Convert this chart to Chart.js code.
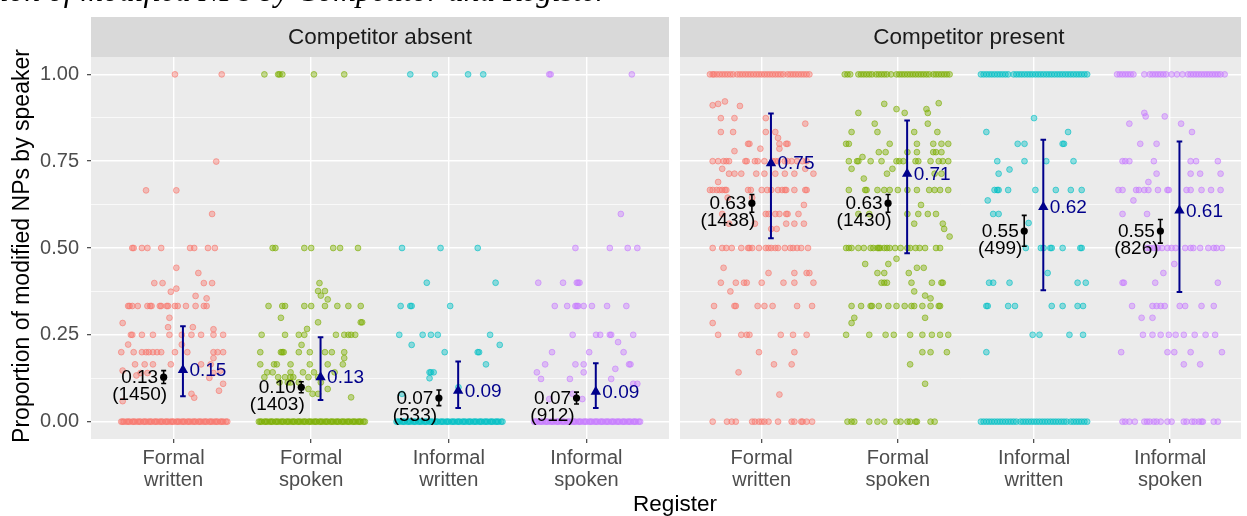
<!DOCTYPE html>
<html><head><meta charset="utf-8">
<script src="https://cdn.jsdelivr.net/npm/chart.js@4.4.0/dist/chart.umd.min.js"></script>
<style>
html,body{margin:0;padding:0;background:#fff;}
#wrap{position:relative;width:1247px;height:516px;overflow:hidden;}
canvas{position:absolute;left:0;top:0;}
</style></head><body>
<div id="wrap"><canvas id="c1" width="1247" height="516"></canvas><canvas id="c2" width="1247" height="516"></canvas></div>
<script>
// ---------- DATA ----------
const categories = [['Formal','written'],['Formal','spoken'],['Informal','written'],['Informal','spoken']];
const facetNames = ['Competitor absent','Competitor present'];
const yTickValues = [0,0.125,0.25,0.375,0.5,0.625,0.75,0.875,1];
const yTickLabels = ['0.00','','0.25','','0.50','','0.75','','1.00'];
const xTitle = 'Register';
const yTitle = 'Proportion of modified NPs by speaker';
const topTitle = 'Proportion of modified NPs by Competitor and Register';

// observed means (black) with intervals and speaker counts
const absentMean   = [0.128, 0.099, 0.068, 0.068];
const absentMeanLo = [0.110, 0.083, 0.046, 0.051];
const absentMeanHi = [0.147, 0.115, 0.091, 0.085];
const absentMeanLabel = ['0.13','0.10','0.07','0.07'];
const absentN = [1450, 1403, 533, 912];
const presentMean   = [0.629, 0.629, 0.549, 0.549];
const presentMeanLo = [0.603, 0.603, 0.505, 0.514];
const presentMeanHi = [0.654, 0.654, 0.594, 0.582];
const presentMeanLabel = ['0.63','0.63','0.55','0.55'];
const presentN = [1438, 1430, 499, 826];

// model estimates (blue triangles) with intervals
const absentModel   = [0.149, 0.128, 0.089, 0.086];
const absentModelLo = [0.073, 0.062, 0.039, 0.039];
const absentModelHi = [0.275, 0.243, 0.173, 0.168];
const absentModelLabel = ['0.15','0.13','0.09','0.09'];
const presentModel   = [0.744, 0.714, 0.618, 0.608];
const presentModelLo = [0.528, 0.485, 0.378, 0.373];
const presentModelHi = [0.887, 0.867, 0.812, 0.807];
const presentModelLabel = ['0.75','0.71','0.62','0.61'];

// per-speaker proportions: rows of [value, [horizontal jitter offsets]]
const zeroBandAbsent = [-0.38,-0.36,-0.34,-0.32,-0.30,-0.28,-0.26,-0.24,-0.22,-0.20,-0.18,-0.16,-0.14,-0.12,-0.10,-0.08,-0.06,-0.04,-0.02,0,0.02,0.04,0.06,0.08,0.10,0.12,0.14,0.16,0.18,0.20,0.22,0.24,0.26,0.28,0.30,0.32,0.34,0.36,0.38,
  -0.37,-0.33,-0.29,-0.25,-0.21,-0.17,-0.13,-0.09,-0.05,-0.01,0.03,0.07,0.11,0.15,0.19,0.23,0.27,0.31,0.35,0.39];

const absentFW = [
 [1,[0.01,0.35]],[0.749,[0.31]],[0.666,[-0.20,0.02]],[0.598,[0.28]],
 [0.5,[-0.30,-0.29,-0.23,-0.19,-0.09,0.12,0.15,0.25,0.30]],
 [0.443,[0.02]],[0.428,[0.18]],[0.399,[-0.14,-0.08,0.22,0.28]],[0.383,[0.02]],[0.374,[-0.02]],[0.362,[0.16]],[0.355,[0.24]],
 [0.333,[-0.33,-0.32,-0.30,-0.26,-0.19,-0.17,-0.16,-0.10,-0.09,-0.05,-0.04,0.01,0.03,0.09,0.16,0.22,0.24]],
 [0.299,[-0.03]],[0.284,[-0.37]],[0.272,[-0.04,0.14]],[0.266,[0.29]],
 [0.25,[-0.31,-0.30,-0.23,-0.15,-0.03,0.06,0.13,0.20,0.29,0.36]],
 [0.222,[-0.33,0.06]],
 [0.2,[-0.38,-0.29,-0.23,-0.20,-0.18,-0.15,-0.12,-0.09,0.01,0.10,0.29,0.32,0.36]],
 [0.183,[0.29]],[0.165,[-0.28,-0.21,-0.15,-0.02,0.20,0.27]],[0.147,[-0.37,0.34]],[0.14,[-0.24,-0.19,0.29]],
 [0.133,[-0.27]],[0.126,[0.26]],[0.109,[0.36]],[0.089,[0.33]],[0.08,[0.13]],[0.069,[0.15]],[0.059,[-0.37]],
 [0,zeroBandAbsent]
];
const absentFS = [
 [1,[-0.34,-0.24,-0.23,-0.21,0.02,0.24]],
 [0.5,[-0.28,-0.26,-0.05,0.0,0.16,0.21,0.34]],
 [0.399,[0.06]],[0.376,[0.05,0.10]],[0.363,[0.07]],[0.352,[0.12]],
 [0.333,[-0.31,-0.21,-0.19,-0.05,0,0.10,0.19,0.27,0.36]],
 [0.299,[-0.22]],[0.286,[0.05,0.36,0.37]],[0.267,[-0.03]],
 [0.25,[-0.36,-0.19,-0.09,-0.05,0.18,0.24,0.27,0.29,0.32]],
 [0.221,[-0.07]],
 [0.2,[-0.37,-0.22,-0.21,-0.20,-0.09,-0.01,0.10,0.15,0.24]],
 [0.183,[0.24]],[0.165,[-0.37,-0.27,-0.25,-0.15,-0.01,0.12,0.23]],
 [0.142,[-0.32,-0.28,-0.15,-0.06,0.02,0.17]],
 [0.128,[-0.34,-0.24,-0.19,-0.15,-0.13,-0.02,0.05]],
 [0.113,[-0.23,-0.17,-0.15,-0.09,0.07]],
 [0.094,[-0.02,0.12]],[0.08,[0.01,0.05]],[0.07,[0.29]],
 [0,zeroBandAbsent]
];
const absentIW = [
 [1,[-0.28,-0.10,0.14,0.25]],[0.5,[-0.34,-0.06,0.21]],[0.4,[-0.16,0.34]],
 [0.333,[-0.35,-0.28,-0.27,0.01]],[0.25,[-0.36,-0.19,-0.13,-0.08,0.30]],
 [0.221,[-0.27,0.37]],[0.2,[-0.03,0.21,0.22]],[0.165,[0.27]],[0.142,[-0.14,-0.13,-0.11]],
 [0.125,[-0.14]],[0.099,[0.07]],[0.08,[-0.34]],
 [0,zeroBandAbsent]
];
const absentIS = [
 [1,[-0.27,-0.26,0.33]],[0.598,[0.25]],[0.5,[-0.08,0.17,0.30,0.37]],
 [0.4,[-0.35,-0.17,-0.07,-0.06,-0.05]],
 [0.333,[-0.23,-0.14,-0.08,-0.07,-0.06,-0.02,0.04,0.15,0.29]],
 [0.25,[-0.10,0.07,0.10,0.17,0.18,0.34]],[0.229,[0.23]],[0.2,[-0.25,0.02,0.27]],
 [0.165,[-0.30,-0.08,-0.02,0.31,0.32]],[0.152,[0.21]],[0.142,[-0.36,-0.02]],
 [0.123,[-0.33,-0.12,0.18]],[0.109,[0.34,0.37]],[0.08,[-0.10]],[0.065,[-0.03,-0.27]],
 [0,zeroBandAbsent]
];

const presentFW = [
 [1,[-0.38,-0.36,-0.35,-0.33,-0.31,-0.29,-0.27,-0.25,-0.23,-0.21,-0.18,-0.16,-0.14,-0.12,-0.10,-0.08,-0.06,-0.04,-0.02,0,0.02,0.04,0.06,0.08,0.10,0.12,0.14,0.16,0.19,0.21,0.23,0.25,0.27,0.29,0.31,0.33,0.35]],
 [0.911,[-0.36]],[0.915,[-0.32]],[0.922,[-0.27]],[0.909,[-0.16]],
 [0.874,[-0.30,-0.20,0.03]],[0.858,[0.32]],[0.834,[-0.30,-0.21,0.03,0.10]],[0.817,[0.12]],
 [0.8,[-0.10,-0.09,0.13,0.18,0.19]],[0.786,[-0.01,0.13]],[0.779,[-0.20]],
 [0.75,[-0.36,-0.32,-0.28,-0.26,-0.24,-0.12,-0.11,-0.05,-0.03,0.02,0.08,0.10,0.12,0.17,0.19,0.22,0.26,0.30,0.33]],
 [0.728,[-0.29,0.32]],
 [0.714,[-0.24,-0.20,-0.15,-0.04,0.02,0.10,0.17,0.24,0.38]],
 [0.69,[-0.32]],
 [0.667,[-0.38,-0.36,-0.33,-0.31,-0.29,-0.27,-0.26,-0.10,-0.08,0,0.04,0.07,0.12,0.15,0.17,0.18,0.24,0.32,0.33]],
 [0.645,[-0.25,-0.07]],[0.624,[0.31]],
 [0.598,[-0.29,0.03,0.05,0.10,0.13,0.18,0.19,0.27]],
 [0.57,[-0.24,-0.05,0.18,0.24,0.31]],[0.555,[0.07,0.11]],
 [0.5,[-0.36,-0.29,-0.26,-0.22,-0.15,-0.10,-0.09,-0.07,-0.02,0.03,0.05,0.07,0.10,0.12,0.17,0.21,0.23,0.26,0.29,0.34]],
 [0.443,[-0.28]],[0.428,[0.05,0.24,0.33,0.35]],
 [0.4,[-0.30,-0.19,-0.13,-0.11,0,0.16,0.24,0.38]],[0.375,[-0.23]],
 [0.333,[-0.35,-0.20,-0.19,-0.03,0.02,0.08,0.26,0.37]],
 [0.284,[-0.36]],[0.25,[-0.32,-0.15,-0.11,-0.09,0.14,0.23,0.33]],
 [0.2,[-0.02,0.24]],[0.165,[0.09,0.22]],[0.142,[-0.17]],[0.078,[0.13]],
 [0,[-0.36,-0.255,-0.22,-0.19,-0.07,-0.05,-0.02,0,0.02,0.05,0.12,0.22,0.24,0.29,0.30,0.33,0.37]]
];
const presentFS = [
 [1,[-0.39,-0.37,-0.35,-0.29,-0.27,-0.25,-0.23,-0.21,-0.19,-0.16,-0.14,-0.12,-0.10,-0.08,-0.05,-0.01,0.01,0.03,0.05,0.07,0.09,0.11,0.13,0.15,0.17,0.19,0.21,0.23,0.26,0.28,0.30,0.32,0.34,0.36,0.38]],
 [0.917,[0.30]],[0.915,[-0.10]],[0.9,[-0.01,0.21]],[0.889,[-0.29,0.05,0.22]],
 [0.858,[-0.17,0.22]],[0.834,[-0.34,-0.15,0.12,0.29]],
 [0.8,[-0.38,-0.36,-0.06,0.14,0.26,0.32,0.37]],
 [0.776,[-0.14,-0.09,0.07,0.14,0.26,0.28,0.32]],[0.762,[-0.26]],
 [0.75,[-0.36,-0.30,-0.29,-0.20,-0.12,-0.01,0.01,0.04,0.13,0.15,0.24,0.30,0.33,0.37]],
 [0.728,[-0.34,-0.04]],[0.714,[-0.08,0.27,0.32]],[0.7,[-0.25]],
 [0.667,[-0.36,-0.24,-0.23,-0.15,-0.10,-0.06,0,0.07,0.14,0.23,0.27,0.31,0.37]],
 [0.624,[0.17]],[0.598,[-0.29,-0.21,0.07,0.15,0.22,0.28]],
 [0.57,[0.12,0.33]],[0.555,[0.34]],[0.533,[0.38]],
 [0.5,[-0.38,-0.36,-0.34,-0.29,-0.25,-0.20,-0.18,-0.15,-0.14,-0.13,-0.10,-0.08,-0.06,-0.02,0.02,0.07,0.09,0.13,0.16,0.20,0.28,0.31]],
 [0.469,[-0.01]],[0.454,[-0.24,-0.07]],[0.443,[0.14,0.19]],[0.428,[-0.15,-0.10,0.08]],
 [0.4,[-0.12,-0.10,-0.08,0.10,0.25,0.32,0.33]],[0.375,[0.12]],[0.363,[0.20]],[0.355,[0.24]],
 [0.333,[-0.34,-0.27,-0.20,-0.19,-0.14,-0.07,-0.01,0.05,0.10,0.12,0.18,0.24,0.30,0.31]],
 [0.299,[-0.32,0.20]],[0.284,[-0.34]],
 [0.25,[-0.38,-0.21,-0.09,-0.03,0.09,0.18,0.25,0.31,0.37]],
 [0.2,[0.18,0.24,0.36]],[0.165,[0.09]],[0.109,[0.20]],
 [0,[-0.37,-0.34,-0.32,-0.21,-0.15,-0.10,-0.01,0.02,0.07,0.09,0.13,0.14,0.24,0.27]]
];
const presentIW = [
 [1,[-0.39,-0.37,-0.35,-0.33,-0.31,-0.29,-0.27,-0.25,-0.23,-0.21,-0.19,-0.15,-0.13,-0.11,-0.09,-0.07,-0.05,-0.03,-0.01,0.01,0.03,0.05,0.07,0.09,0.11,0.13,0.15,0.17,0.19,0.21,0.23,0.25,0.27,0.29,0.31,0.33,0.35,0.37,0.39]],
 [0.874,[0.0]],[0.834,[-0.35,0.25]],[0.8,[-0.12,-0.07,0.21,0.22]],
 [0.75,[-0.27,-0.07,0.09,0.29]],[0.726,[-0.18]],[0.714,[-0.26]],
 [0.667,[-0.29,-0.27,-0.26,-0.19,0.01,0.16,0.27,0.35]],
 [0.637,[-0.34]],[0.598,[-0.30,-0.26]],[0.572,[-0.04]],
 [0.5,[-0.06,0.05,0.07,0.12,0.13,0.21,0.34,0.35]],
 [0.428,[0.10]],[0.4,[-0.33,-0.30,-0.18,0.32,0.38]],
 [0.333,[-0.35,-0.34,-0.19,-0.14,0.13,0.21,0.32,0.36]],
 [0.25,[-0.01,0.04,0.26,0.36]],[0.2,[-0.35]],
 [0,[-0.39,-0.37,-0.35,-0.33,-0.31,-0.29,-0.27,-0.25,-0.23,-0.21,-0.19,-0.17,-0.15,-0.13,-0.10,-0.08,-0.06,-0.04,-0.02,0,0.02,0.04,0.06,0.08,0.10,0.12,0.14,0.16,0.18,0.20,0.22,0.24,0.27,0.29,0.31,0.33,0.35,0.37,0.39]]
];
const presentIS = [
 [1,[-0.39,-0.37,-0.35,-0.33,-0.31,-0.29,-0.27,-0.19,-0.15,-0.13,-0.11,-0.09,-0.07,-0.05,-0.03,0.01,0.05,0.09,0.13,0.15,0.17,0.19,0.21,0.23,0.25,0.27,0.29,0.31,0.33,0.35,0.37,0.40]],
 [0.889,[-0.19]],[0.879,[-0.18,-0.04]],[0.858,[-0.30,0.08]],[0.834,[0.16]],[0.8,[-0.22,-0.10]],
 [0.75,[-0.35,-0.33,-0.30,-0.12,0.15,0.19,0.35]],[0.714,[-0.10,0.15,0.22,0.37]],[0.69,[-0.16]],
 [0.667,[-0.38,-0.35,-0.25,-0.23,-0.19,-0.16,-0.09,-0.02,-0.01,0.12,0.15,0.23,0.30,0.37]],
 [0.637,[-0.27]],[0.598,[-0.35,-0.17]],
 [0.5,[-0.17,-0.15,-0.12,-0.10,-0.09,-0.06,-0.02,0.01,0.04,0.11,0.15,0.17,0.22,0.28,0.32,0.34,0.38]],
 [0.454,[0.03]],[0.428,[-0.05]],[0.4,[-0.35,-0.34,-0.11,0.35]],
 [0.333,[-0.28,-0.13,-0.10,-0.07,-0.04,0.07,0.11,0.23,0.32]],
 [0.299,[-0.21,-0.13]],
 [0.25,[-0.20,-0.13,-0.07,-0.01,0.04,0.10,0.18,0.26,0.33]],
 [0.2,[-0.36,-0.02,0.03,0.15,0.38]],[0.165,[0.10,0.22]],
 [0,[-0.35,-0.33,-0.30,-0.26,-0.19,-0.17,-0.15,-0.12,-0.10,-0.07,-0.02,0.01,0.10,0.12,0.16,0.18,0.21,0.23,0.24,0.32,0.35]]
];

const absentJitter = [absentFW, absentFS, absentIW, absentIS];
const presentJitter = [presentFW, presentFS, presentIW, presentIS];

// ---------- STYLE ----------
const groupColors = ['248,118,109','124,174,0','0,191,196','199,124,255'];
const FONT = '"Liberation Sans", Arial, Helvetica, sans-serif';
const MEAN_DX = -0.072, MODEL_DX = 0.068;
const NAVY = '#00008B';

function buildPoints(rows, ci){
  const pts = [];
  rows.forEach(([y, dxs]) => dxs.forEach(dx => pts.push({x: ci + 1 + dx, y: y})));
  return pts;
}

function makePlugin(cfg){
  return {
    id: 'panel' + cfg.idx,
    beforeDraw(chart){
      const {ctx, chartArea: a, scales: {x}} = chart;
      ctx.save();
      ctx.fillStyle = '#EBEBEB';
      ctx.fillRect(a.left, a.top, a.right - a.left, a.bottom - a.top);
      ctx.fillStyle = '#D9D9D9';
      ctx.fillRect(a.left, 17, a.right - a.left, a.top - 17);
      ctx.fillStyle = '#1A1A1A';
      ctx.font = '22.5px ' + FONT;
      ctx.textAlign = 'center'; ctx.textBaseline = 'middle';
      ctx.fillText(cfg.facet, x.getPixelForValue(2.5) + (cfg.left ? 0 : 3), 38);
      ctx.restore();
    },
    afterDatasetsDraw(chart){
      const {ctx, scales: {x, y}} = chart;
      ctx.save();
      function bar(cx, lo, hi, color, lw, cap){
        const px = x.getPixelForValue(cx), yl = y.getPixelForValue(lo), yh = y.getPixelForValue(hi);
        ctx.strokeStyle = color; ctx.lineWidth = lw;
        ctx.beginPath();
        ctx.moveTo(px, yl); ctx.lineTo(px, yh);
        ctx.moveTo(px - cap, yl); ctx.lineTo(px + cap, yl);
        ctx.moveTo(px - cap, yh); ctx.lineTo(px + cap, yh);
        ctx.stroke();
      }
      for (let i = 0; i < 4; i++){
        bar(i + 1 + MEAN_DX, cfg.meanLo[i], cfg.meanHi[i], '#000', 1.6, 2.5);
        bar(i + 1 + MODEL_DX, cfg.modelLo[i], cfg.modelHi[i], NAVY, 2, 2.8);
      }
      ctx.font = '19px ' + FONT;
      ctx.textAlign = 'center'; ctx.textBaseline = 'middle';
      for (let i = 0; i < 4; i++){
        const mx = x.getPixelForValue(i + 1 + MEAN_DX), my = y.getPixelForValue(cfg.mean[i]);
        ctx.fillStyle = '#000';
        ctx.fillText(cfg.meanLabel[i], mx - 24, my + 1);
        ctx.fillText('(' + cfg.n[i] + ')', mx - 24, my + 18);
        const bx = x.getPixelForValue(i + 1 + MODEL_DX), by = y.getPixelForValue(cfg.model[i]);
        ctx.fillStyle = NAVY;
        ctx.fillText(cfg.modelLabel[i], bx + 25, by + 1);
      }
      ctx.restore();
    },
    afterDraw(chart){
      if (!cfg.left) return;
      const ctx = chart.ctx;
      ctx.save();
      ctx.fillStyle = '#000';
      ctx.font = '22.5px ' + FONT;
      ctx.textAlign = 'center'; ctx.textBaseline = 'middle';
      ctx.fillText(xTitle, 675, 505);
      ctx.translate(23, 246);
      ctx.rotate(-Math.PI / 2);
      ctx.font = '23px ' + FONT;
      ctx.fillText(yTitle, 0, 0);
      ctx.restore();
      ctx.save();
      ctx.fillStyle = '#000';
      ctx.font = 'italic 31.5px "Liberation Serif", "Times New Roman", serif';
      ctx.textAlign = 'right'; ctx.textBaseline = 'alphabetic';
      ctx.fillText(topTitle, 608, 1);
      ctx.restore();
    }
  };
}

function makeChart(canvasId, cfg){
  const datasets = [
    {data: cfg.mean.map((v, i) => ({x: i + 1 + MEAN_DX, y: v})), pointStyle: 'circle', pointRadius: 3.6,
     backgroundColor: '#000', borderColor: '#000', borderWidth: 0, order: 0},
    {data: cfg.model.map((v, i) => ({x: i + 1 + MODEL_DX, y: v})), pointStyle: 'triangle', pointRadius: 6,
     backgroundColor: NAVY, borderColor: NAVY, borderWidth: 0, order: 0}
  ];
  cfg.jitter.forEach((rows, ci) => {
    datasets.push({data: buildPoints(rows, ci), pointStyle: 'circle', pointRadius: 2.9,
      backgroundColor: 'rgba(' + groupColors[ci] + ',0.42)', borderColor: 'rgba(' + groupColors[ci] + ',0.6)',
      borderWidth: 1, order: 2});
  });
  const left = cfg.left;
  return new Chart(document.getElementById(canvasId), {
    type: 'scatter',
    data: {datasets},
    options: {
      responsive: false, animation: false, devicePixelRatio: 1,
      events: [],
      layout: {padding: {left: left ? 0 : 680, right: left ? 578 : 0, top: 57, bottom: 0}},
      plugins: {legend: {display: false}, tooltip: {enabled: false}},
      scales: {
        x: {
          type: 'linear', min: 0.4, max: left ? 4.6 : 4.52,
          afterBuildTicks: s => { s.ticks = [1, 2, 3, 4].map(v => ({value: v})); },
          afterFit: s => { s.height = 77; },
          ticks: {callback: v => categories[Math.round(v) - 1], color: '#4D4D4D', padding: 4,
                  autoSkip: false, maxRotation: 0, font: {family: FONT, size: 20, lineHeight: 1.1}},
          grid: {color: '#FFFFFF', lineWidth: 1.4, tickColor: '#333333', tickLength: 4, tickWidth: 1.1},
          border: {display: false}
        },
        y: {
          type: 'linear', min: -0.05, max: 1.05,
          afterBuildTicks: s => { s.ticks = yTickValues.map(v => ({value: v})); },
          afterFit: s => { s.width = left ? 91 : 0; },
          ticks: {display: left, callback: (v, i) => yTickLabels[i], color: '#4D4D4D', padding: 8,
                  font: {family: FONT, size: 20}},
          grid: {
            color: '#FFFFFF',
            lineWidth: c => (yTickLabels[c.index] ? 1.4 : 0.7),
            tickColor: c => (yTickLabels[c.index] ? '#333333' : 'rgba(0,0,0,0)'),
            tickLength: 4, tickWidth: 1.1, drawTicks: left
          },
          border: {display: false}
        }
      }
    },
    plugins: [makePlugin(cfg)]
  });
}

makeChart('c1', {idx: 0, left: true, facet: facetNames[0], jitter: absentJitter,
  mean: absentMean, meanLo: absentMeanLo, meanHi: absentMeanHi, meanLabel: absentMeanLabel, n: absentN,
  model: absentModel, modelLo: absentModelLo, modelHi: absentModelHi, modelLabel: absentModelLabel});
makeChart('c2', {idx: 1, left: false, facet: facetNames[1], jitter: presentJitter,
  mean: presentMean, meanLo: presentMeanLo, meanHi: presentMeanHi, meanLabel: presentMeanLabel, n: presentN,
  model: presentModel, modelLo: presentModelLo, modelHi: presentModelHi, modelLabel: presentModelLabel});
</script>
</body></html>
